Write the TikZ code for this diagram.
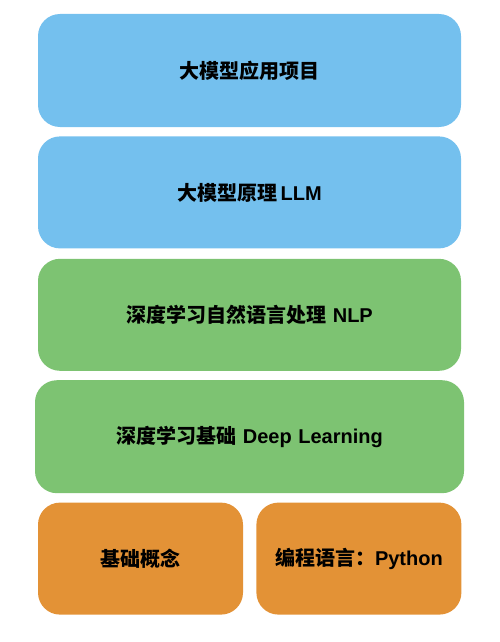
\documentclass[tikz,border=0pt]{standalone}
\usepackage{fontspec}
\usepackage{xcolor}
\usepackage{tikz}
\usetikzlibrary{shapes,arrows,positioning}
\setmainfont{Liberation Sans}
\newfontfamily\cjk{Noto Sans CJK SC}
\definecolor{llmblue}{HTML}{74C0EE}
\definecolor{dlgreen}{HTML}{7DC372}
\definecolor{baseorange}{HTML}{E39236}
\tikzstyle{layer} = [rectangle, %draw,
    text width=400pt, text centered, rounded corners=22pt, minimum height=112pt,
    inner sep=0pt, font=\bfseries\fontsize{20}{24}\selectfont]
\tikzstyle{layer_half} = [layer, text width=205pt]

\begin{document}
\begin{tikzpicture}[x=1pt, y=-1pt, node distance = 9pt, auto]
    \useasboundingbox (0,0) rectangle (500,642);
    % Place nodes
    \node [layer, fill=llmblue, text width=423pt, minimum height=113pt] at (249.5,70.5) (app) {{\cjk 大模型应用项目}};
    \node [layer, fill=llmblue, text width=423pt, below=of app] (llm) {{\cjk 大模型原理}\,LLM};
    \node [layer, fill=dlgreen, text width=423pt, below=10pt of llm] (nlp) {{\cjk 深度学习自然语言处理} NLP};
    \node [layer, fill=dlgreen, text width=429pt, minimum height=113pt, below=of nlp] (dl) {{\cjk 深度学习基础} Deep Learning};
    \node [layer_half, fill=baseorange, below=of dl.south west, anchor=north west, xshift=3pt] (concept) {{\cjk 基础概念}};
    \node [layer_half, fill=baseorange, right=13pt of concept] (python) {{\cjk 编程语言：}Python};
\end{tikzpicture}
\end{document}
